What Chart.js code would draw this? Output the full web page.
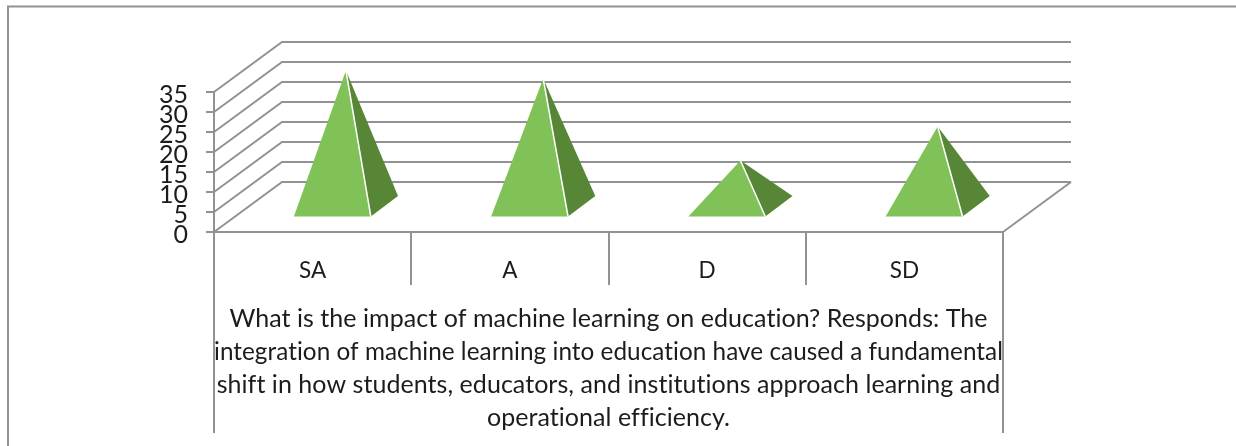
<!DOCTYPE html>
<html>
<head>
<meta charset="utf-8">
<style>
body { margin: 0; background: #fff; }
canvas { display: block; }
</style>
<script src="https://cdn.jsdelivr.net/npm/chart.js@4/dist/chart.umd.min.js"></script>
</head>
<body>
<canvas id="myChart" width="1236" height="446"></canvas>
<script>
const categories = ["SA", "A", "D", "SD"];
const responses = [34, 32, 11.5, 20];
const axisTitle = [
	"What is the impact of machine learning on education? Responds: The",
	"integration of machine learning into education have caused a fundamental",
	"shift in how students, educators, and institutions approach learning and",
	"operational efficiency."
];

const lineGrey = "#929292";
const textColor = "#1c1c1c";
const frontGreen = "#80c257";
const sideGreen = "#568636";

// how far the floor runs back, in pixels
const depthX = 68;
const depthY = 50;

// bars drawn as pyramids standing in the middle of the floor
class PyramidController extends Chart.BarController {
	draw() {
		const ctx = this.chart.ctx;
		const y0 = this.chart.scales.y.getPixelForValue(0);
		this.getMeta().data.forEach(function(bar) {
			const half = bar.width / 2;
			const fx = bar.x + depthX * 0.29;
			const fy = y0 - depthY * 0.31;
			const left = fx - half;
			const right = fx + half;
			const backX = right + depthX * 0.4;
			const backY = fy - depthY * 0.41;
			const topX = fx + depthX * 0.2;
			const topY = bar.y - depthY * 0.51;

			ctx.save();
			ctx.fillStyle = sideGreen;
			ctx.beginPath();
			ctx.moveTo(right, fy);
			ctx.lineTo(backX, backY);
			ctx.lineTo(topX, topY);
			ctx.closePath();
			ctx.fill();

			ctx.fillStyle = frontGreen;
			ctx.beginPath();
			ctx.moveTo(left, fy);
			ctx.lineTo(right, fy);
			ctx.lineTo(topX, topY);
			ctx.closePath();
			ctx.fill();

			ctx.strokeStyle = "#ffffff";
			ctx.lineWidth = 1.5;
			ctx.beginPath();
			ctx.moveTo(topX, topY);
			ctx.lineTo(right, fy);
			ctx.stroke();
			ctx.restore();
		});
	}
}
PyramidController.id = "pyramid";
PyramidController.defaults = Chart.BarController.defaults;
PyramidController.overrides = Chart.BarController.overrides;
Chart.register(PyramidController);

const wallPlugin = {
	id: "wall",
	beforeDraw: function(chart) {
		// any letter spacing turns off the ti ligature in Lato
		chart.ctx.letterSpacing = "0.05px";
	},
	beforeDatasetsDraw: function(chart) {
		const ctx = chart.ctx;
		const x = chart.scales.x;
		const y = chart.scales.y;
		const y0 = y.getPixelForValue(0);

		ctx.save();
		ctx.strokeStyle = lineGrey;
		ctx.lineWidth = 2;

		// outer border
		ctx.beginPath();
		ctx.moveTo(8, 446);
		ctx.lineTo(8, 6.5);
		ctx.lineTo(1236, 6.5);
		ctx.stroke();

		// side wall and back wall lines
		y.ticks.forEach(function(tick) {
			const py = y.getPixelForValue(tick.value);
			ctx.beginPath();
			ctx.moveTo(x.left, py);
			ctx.lineTo(x.left + depthX, py - depthY);
			ctx.lineTo(x.right + depthX, py - depthY);
			ctx.stroke();
		});

		// right edge of the floor
		ctx.beginPath();
		ctx.moveTo(x.right, y0);
		ctx.lineTo(x.right + depthX, y0 - depthY);
		ctx.stroke();

		// outer table lines run down past the axis title
		ctx.beginPath();
		ctx.moveTo(x.left, y0);
		ctx.lineTo(x.left, 433);
		ctx.moveTo(x.right, y0);
		ctx.lineTo(x.right, 433);
		ctx.stroke();
		ctx.restore();
	}
};

new Chart("myChart", {
	type: "pyramid",
	data: {
		labels: categories,
		datasets: [{
			label: "Responses",
			data: responses,
			backgroundColor: frontGreen,
			barPercentage: 0.39,
			categoryPercentage: 1,
			clip: false
		}]
	},
	options: {
		responsive: false,
		animation: false,
		layout: { padding: { top: 92, right: 233, bottom: 0, left: 0 } },
		scales: {
			x: {
				afterFit: function(scale) { scale.height = 214; },
				border: { color: lineGrey, width: 2 },
				grid: {
					offset: true,
					drawOnChartArea: false,
					color: lineGrey,
					lineWidth: 2,
					tickLength: 53
				},
				ticks: {
					color: textColor,
					padding: -28,
					maxRotation: 0,
					font: { family: "Lato", size: 22.5 }
				},
				title: {
					display: true,
					text: axisTitle,
					color: textColor,
					padding: { top: 0, bottom: 12 },
					font: { family: "Lato", size: 25, lineHeight: "33px" }
				}
			},
			y: {
				min: 0,
				max: 35,
				afterFit: function(scale) { scale.width = 214; },
				border: { color: lineGrey, width: 2 },
				grid: {
					drawOnChartArea: false,
					color: lineGrey,
					lineWidth: 2,
					tickLength: 8
				},
				ticks: {
					stepSize: 5,
					autoSkip: false,
					color: textColor,
					padding: 18,
					// empty first line pushes the number 3px below its tick
					callback: function(value) { return ["", String(value)]; },
					font: { family: "Lato", size: 25, lineHeight: "6px" }
				}
			}
		},
		plugins: {
			legend: { display: false },
			tooltip: { enabled: false }
		}
	},
	plugins: [wallPlugin]
});
</script>
</body>
</html>
